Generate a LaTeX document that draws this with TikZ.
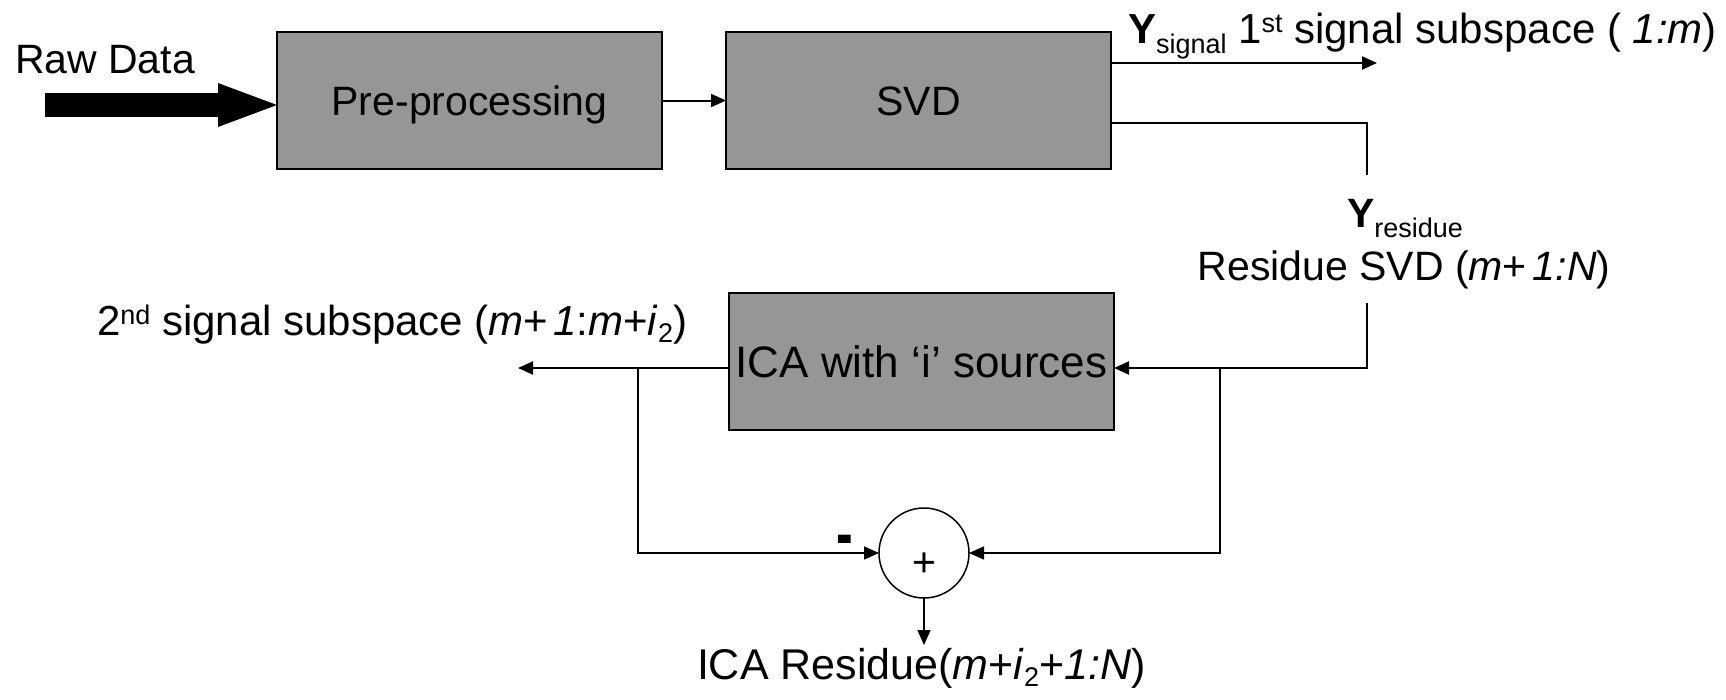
\documentclass[tikz,border=0pt]{standalone}
\usepackage{fontspec}
\setmainfont{Liberation Sans}
\usetikzlibrary{arrows.meta}
\definecolor{boxgray}{HTML}{969696}
\newcommand\lsub[1]{\raisebox{-10pt}{\fontsize{27}{27}\selectfont #1}}
\newcommand\ssub[1]{\raisebox{-7pt}{\fontsize{27}{27}\selectfont #1}}
\newcommand\lsup[1]{\raisebox{11pt}{\fontsize{27}{27}\selectfont #1}}
\begin{document}
\begin{tikzpicture}[x=1pt,y=-1pt,
  every node/.style={font=\fontsize{41}{49}\selectfont, inner sep=0pt, outer sep=0pt},
  block/.style={draw=black, line width=1.6pt, fill=boxgray, minimum width=385pt,
    minimum height=137pt, text height=29.5pt, text depth=0pt},
  conn/.style={line width=2pt},
  fbline/.style={line width=1.5pt},
  arr/.style={-{Triangle[length=15pt,width=13pt]}},
]
\useasboundingbox (0,0) rectangle (1726,699);

% blocks
\node[block] (pre) at (469.5,100.5) {Pre-processing};
\node[block] (svd) at (918.5,100.5) {SVD};
\node[block, font=\fontsize{44}{50}\selectfont, text height=31.5pt] (ica) at (921.5,361.5) {ICA with ‘i’ sources};
\node[circle, draw=black, line width=1.5pt, minimum size=90pt, fill=white] (sum) at (924,553) {};
\node[anchor=base] (plus) at (924,576.5) {+};
\node[anchor=base] (minus) at (845,557) {\scalebox{1}[1.4]{\fontsize{50}{50}\selectfont\textbf{-}}};

% labels
\node[anchor=base west] (rawlbl) at (15,73) {Raw Data};
\node[anchor=base west, font=\fontsize{42}{50}\selectfont] (ysig) at (1128,43) {\textbf{Y}\lsub{signal} 1\lsup{st} signal subspace ( \textit{1:m})};
\node[anchor=base west] (yres) at (1347,227) {\textbf{Y}\lsub{residue}};
\node[anchor=base] (resl) at (1404,280) {Residue SVD (\textit{m}+\hspace{6pt}\textit{1:N})};
\node[anchor=base west, font=\fontsize{42}{50}\selectfont] (sig2) at (97,335) {2\lsup{nd} signal subspace (\textit{m}+\hspace{5pt}\textit{1}:\textit{m}+\textit{i}\ssub{2})};
\node[anchor=base west, font=\fontsize{43}{50}\selectfont] (icaresl) at (697,679) {ICA Residue(\textit{m}+\textit{i}\ssub{2}+\textit{1:N})};

% connectors
\coordinate (rawstart) at (45,105);
\draw[line width=24pt, -{Triangle[length=59pt 0 0,width=44pt 0 0,line width=0pt]}] (rawstart) -- (rawstart -| pre.west);
\draw[conn, arr] (pre.east) -- (svd.west);
\coordinate (ysigend) at (1377,63);
\draw[conn, arr] (svd.east |- ysigend) -- (ysigend);
\coordinate (res1) at (1367,123);
\coordinate (res2) at (1367,175);
\draw[conn] (svd.east |- res1) -- (res1) -- (res2);
\coordinate (res3) at (1367,303);
\coordinate (res4) at (1367,368);
\draw[conn, arr] (res3) -- (res4) -- (ica.east |- res4);
\coordinate (out2) at (518,368);
\draw[conn, arr] (ica.west |- out2) -- (out2);
\coordinate (fbL) at (638,368);
\coordinate (fbR) at (1220,368);
\draw[fbline, arr] (fbL) |- (sum.west);
\draw[fbline, arr] (fbR) |- (sum.east);
\coordinate (icaend) at (924,645);
\draw[fbline, arr] (sum.south) -- (icaend);
\end{tikzpicture}
\end{document}
